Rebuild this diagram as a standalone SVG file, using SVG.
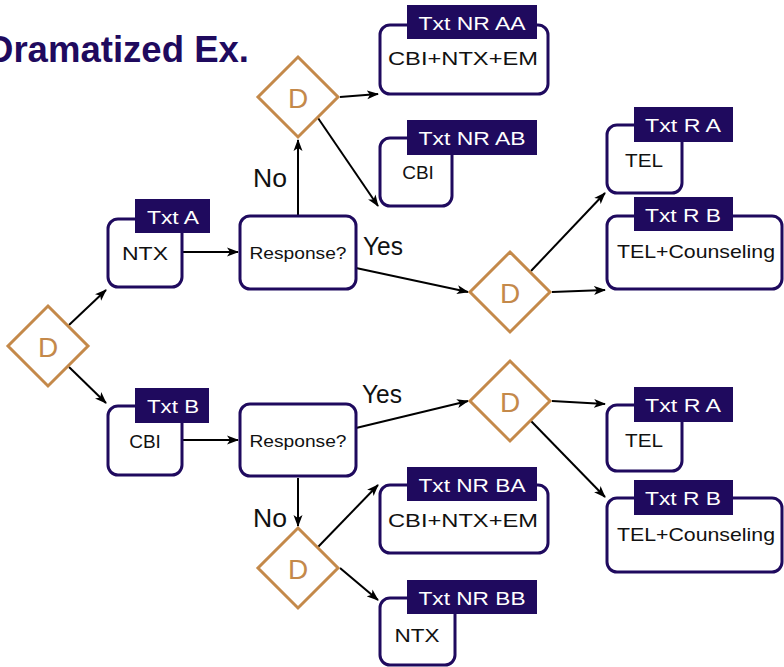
<svg xmlns="http://www.w3.org/2000/svg" width="784" height="667" viewBox="0 0 784 667">
  <defs>
    <marker id="arr" markerWidth="12" markerHeight="10" refX="11" refY="5" orient="auto" markerUnits="userSpaceOnUse">
      <path d="M0,0.5 L12,5 L0,9.5 L3,5 z" fill="#000"/>
    </marker>
  </defs>
  <style>
    .box { fill: #fff; stroke: #1f0a5e; stroke-width: 3; }
    .tag { fill: #1f0a5e; }
    .tagt { fill: #fff; font-family: "Liberation Sans", Arial, sans-serif; font-size: 19px; text-anchor: middle; }
    .nt { fill: #111; font-family: "Liberation Sans", Arial, sans-serif; font-size: 19px; text-anchor: middle; }
    .rt { fill: #111; font-family: "Liberation Sans", Arial, sans-serif; font-size: 17px; text-anchor: middle; }
    .dia { fill: #fff; stroke: #c4894a; stroke-width: 3; }
    .dt { fill: #c4894a; font-family: "Liberation Sans", Arial, sans-serif; font-size: 28px; text-anchor: middle; }
    .edge { stroke: #000; stroke-width: 2; fill: none; marker-end: url(#arr); }
    .el { fill: #111; font-family: "Liberation Sans", Arial, sans-serif; font-size: 25px; }
    .title { fill: #1f0a5e; font-family: "Liberation Sans", Arial, sans-serif; font-size: 36px; font-weight: bold; }
  </style>
  <rect width="784" height="667" fill="#fff"/>

  <!-- slide title, running off the left edge -->
  <text class="title" x="-13" y="62" textLength="262" lengthAdjust="spacingAndGlyphs">Dramatized Ex.</text>

  <!-- connectors -->
  <g id="edges">
    <line class="edge" x1="69" y1="325" x2="106" y2="290"/>
    <line class="edge" x1="69" y1="367" x2="106" y2="403"/>
    <line class="edge" x1="182" y1="252" x2="238" y2="252"/>
    <line class="edge" x1="182" y1="440" x2="238" y2="440"/>
    <line class="edge" x1="298" y1="215" x2="298" y2="140"/>
    <line class="edge" x1="356" y1="268" x2="468" y2="292"/>
    <line class="edge" x1="356" y1="428" x2="468" y2="401"/>
    <line class="edge" x1="298" y1="478" x2="298" y2="526"/>
    <line class="edge" x1="340" y1="97" x2="378" y2="94"/>
    <line class="edge" x1="318" y1="118" x2="378" y2="206"/>
    <line class="edge" x1="531" y1="271" x2="605" y2="193"/>
    <line class="edge" x1="552" y1="292" x2="605" y2="290"/>
    <line class="edge" x1="552" y1="401" x2="605" y2="404"/>
    <line class="edge" x1="531" y1="421" x2="605" y2="497"/>
    <line class="edge" x1="318" y1="547" x2="378" y2="485"/>
    <line class="edge" x1="340" y1="568" x2="378" y2="600"/>
    <text class="el" x="253" y="187" textLength="34" lengthAdjust="spacingAndGlyphs">No</text>
    <text class="el" x="363" y="255" textLength="40" lengthAdjust="spacingAndGlyphs">Yes</text>
    <text class="el" x="362" y="403" textLength="40" lengthAdjust="spacingAndGlyphs">Yes</text>
    <text class="el" x="253" y="527" textLength="34" lengthAdjust="spacingAndGlyphs">No</text>
  </g>

  <!-- decision diamonds -->
  <g id="d0">
    <polygon class="dia" points="48,306 88,346 48,386 8,346"/>
    <text class="dt" x="48" y="357">D</text>
  </g>
  <g id="d-top">
    <polygon class="dia" points="298,57 338,97 298,137 258,97"/>
    <text class="dt" x="298" y="108">D</text>
  </g>
  <g id="d-right-up">
    <polygon class="dia" points="510,252 550,292 510,332 470,292"/>
    <text class="dt" x="510" y="303">D</text>
  </g>
  <g id="d-right-low">
    <polygon class="dia" points="510,361 550,401 510,441 470,401"/>
    <text class="dt" x="510" y="412">D</text>
  </g>
  <g id="d-bottom">
    <polygon class="dia" points="298,528 338,568 298,608 258,568"/>
    <text class="dt" x="298" y="579">D</text>
  </g>

  <!-- treatment nodes -->
  <g id="txt-a">
    <rect class="box" x="108" y="219" width="74" height="68" rx="10"/>
    <rect class="tag" x="135" y="199" width="75" height="34"/>
    <text class="tagt" x="173" y="224" textLength="52" lengthAdjust="spacingAndGlyphs">Txt A</text>
    <text class="nt" x="145" y="260" textLength="46" lengthAdjust="spacingAndGlyphs">NTX</text>
  </g>
  <g id="txt-b">
    <rect class="box" x="108" y="406" width="74" height="69" rx="10"/>
    <rect class="tag" x="135" y="388" width="74" height="35"/>
    <text class="tagt" x="173" y="413" textLength="52" lengthAdjust="spacingAndGlyphs">Txt B</text>
    <text class="nt" x="145" y="448">CBI</text>
  </g>
  <g id="resp-a">
    <rect class="box" x="240" y="216" width="116" height="73" rx="10"/>
    <text class="rt" x="298" y="259" textLength="97" lengthAdjust="spacingAndGlyphs">Response?</text>
  </g>
  <g id="resp-b">
    <rect class="box" x="240" y="404" width="116" height="72" rx="10"/>
    <text class="rt" x="298" y="447" textLength="97" lengthAdjust="spacingAndGlyphs">Response?</text>
  </g>
  <g id="nr-aa">
    <rect class="box" x="380" y="25" width="168" height="69" rx="10"/>
    <rect class="tag" x="407" y="5" width="130" height="34"/>
    <text class="tagt" x="472" y="30" textLength="107" lengthAdjust="spacingAndGlyphs">Txt NR AA</text>
    <text class="nt" x="463" y="65" textLength="150" lengthAdjust="spacingAndGlyphs">CBI+NTX+EM</text>
  </g>
  <g id="nr-ab">
    <rect class="box" x="380" y="138" width="72" height="68" rx="10"/>
    <rect class="tag" x="407" y="120" width="130" height="35"/>
    <text class="tagt" x="472" y="145" textLength="107" lengthAdjust="spacingAndGlyphs">Txt NR AB</text>
    <text class="nt" x="418" y="179">CBI</text>
  </g>
  <g id="r-a-up">
    <rect class="box" x="607" y="125" width="75" height="68" rx="10"/>
    <rect class="tag" x="634" y="107" width="99" height="35"/>
    <text class="tagt" x="683" y="132" textLength="76" lengthAdjust="spacingAndGlyphs">Txt R A</text>
    <text class="nt" x="644" y="167" textLength="38" lengthAdjust="spacingAndGlyphs">TEL</text>
  </g>
  <g id="r-b-up">
    <rect class="box" x="607" y="216" width="175" height="73" rx="10"/>
    <rect class="tag" x="634" y="197" width="99" height="34"/>
    <text class="tagt" x="683" y="222" textLength="76" lengthAdjust="spacingAndGlyphs">Txt R B</text>
    <text class="nt" x="696" y="258" textLength="158" lengthAdjust="spacingAndGlyphs">TEL+Counseling</text>
  </g>
  <g id="r-a-low">
    <rect class="box" x="607" y="405" width="75" height="66" rx="10"/>
    <rect class="tag" x="634" y="387" width="99" height="35"/>
    <text class="tagt" x="683" y="412" textLength="76" lengthAdjust="spacingAndGlyphs">Txt R A</text>
    <text class="nt" x="644" y="447" textLength="38" lengthAdjust="spacingAndGlyphs">TEL</text>
  </g>
  <g id="r-b-low">
    <rect class="box" x="607" y="498" width="175" height="74" rx="10"/>
    <rect class="tag" x="634" y="480" width="99" height="35"/>
    <text class="tagt" x="683" y="505" textLength="76" lengthAdjust="spacingAndGlyphs">Txt R B</text>
    <text class="nt" x="696" y="541" textLength="158" lengthAdjust="spacingAndGlyphs">TEL+Counseling</text>
  </g>
  <g id="nr-ba">
    <rect class="box" x="380" y="485" width="168" height="68" rx="10"/>
    <rect class="tag" x="407" y="467" width="130" height="34"/>
    <text class="tagt" x="472" y="492" textLength="107" lengthAdjust="spacingAndGlyphs">Txt NR BA</text>
    <text class="nt" x="463" y="527" textLength="150" lengthAdjust="spacingAndGlyphs">CBI+NTX+EM</text>
  </g>
  <g id="nr-bb">
    <rect class="box" x="380" y="598" width="75" height="67" rx="10"/>
    <rect class="tag" x="407" y="580" width="130" height="34"/>
    <text class="tagt" x="472" y="605" textLength="107" lengthAdjust="spacingAndGlyphs">Txt NR BB</text>
    <text class="nt" x="417" y="642" textLength="45" lengthAdjust="spacingAndGlyphs">NTX</text>
  </g>
</svg>
